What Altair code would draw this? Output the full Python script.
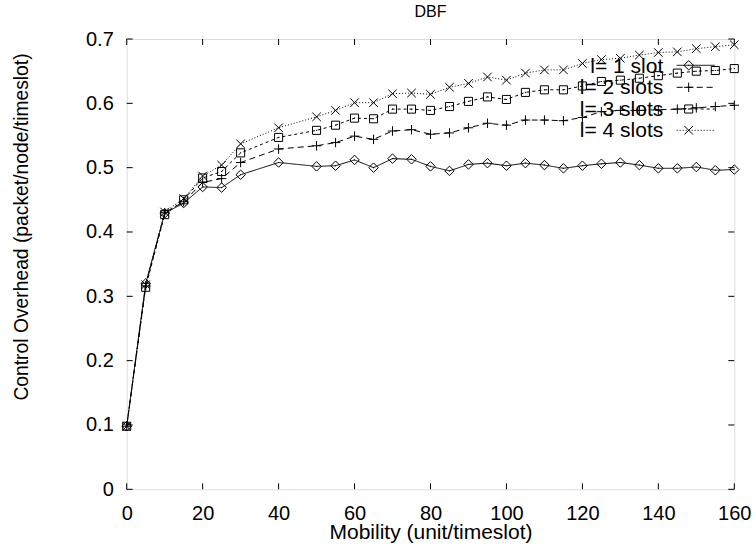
import altair as alt
import pandas as pd

# ---------------- data ----------------
mobility = [0, 5, 10, 15, 20, 25, 30, 40, 50, 55, 60, 65, 70, 75, 80, 85, 90,
            95, 100, 105, 110, 115, 120, 125, 130, 135, 140, 145, 150, 155, 160]
l1 = [0.098, 0.320, 0.429, 0.445, 0.470, 0.469, 0.489, 0.508, 0.502, 0.503, 0.512,
      0.500, 0.514, 0.513, 0.502, 0.495, 0.505, 0.507, 0.503, 0.507, 0.504, 0.499,
      0.503, 0.506, 0.508, 0.504, 0.499, 0.499, 0.501, 0.496, 0.497]
l2 = [0.098, 0.316, 0.430, 0.447, 0.477, 0.483, 0.508, 0.529, 0.534, 0.539, 0.549,
      0.544, 0.557, 0.559, 0.552, 0.554, 0.562, 0.569, 0.566, 0.574, 0.574, 0.573,
      0.578, 0.587, 0.589, 0.589, 0.590, 0.591, 0.593, 0.595, 0.597]
l3 = [0.098, 0.314, 0.427, 0.450, 0.484, 0.494, 0.523, 0.547, 0.558, 0.566, 0.577,
      0.576, 0.591, 0.591, 0.589, 0.595, 0.603, 0.610, 0.606, 0.617, 0.621, 0.621,
      0.627, 0.634, 0.636, 0.639, 0.643, 0.647, 0.650, 0.651, 0.654]
l4 = [0.098, 0.318, 0.431, 0.452, 0.487, 0.504, 0.537, 0.562, 0.579, 0.589, 0.601,
      0.601, 0.615, 0.616, 0.614, 0.625, 0.631, 0.641, 0.636, 0.647, 0.652, 0.652,
      0.662, 0.668, 0.670, 0.675, 0.679, 0.680, 0.685, 0.688, 0.691]
series_labels = ["l= 1 slot", "l= 2 slots", "l= 3 slots", "l= 4 slots"]
x_ticks = [0, 20, 40, 60, 80, 100, 120, 140, 160]
y_ticks = [0, 0.1, 0.2, 0.3, 0.4, 0.5, 0.6, 0.7]
chart_title = ["DBF"]

# ---------------- styling ----------------
W, H = 607.6, 450.3
FONT = "Liberation Sans"
DIAMOND = "M0,-1L1,0L0,1L-1,0Z M-0.12,0L0.12,0"
PLUS = "M-1,0L1,0M0,-1L0,1"
SQUARE = "M-0.85,-0.85L0.85,-0.85L0.85,0.85L-0.85,0.85Z M-0.12,0L0.12,0"
CROSS = "M-0.9,-0.9L0.9,0.9M-0.9,0.9L0.9,-0.9"
shapes = [DIAMOND, PLUS, SQUARE, CROSS]
dashes = [[1, 0], [6, 4], [3, 3], [1, 2]]

rows = []
for lab, vals in zip(series_labels, [l1, l2, l3, l4]):
    for xv, yv in zip(mobility, vals):
        rows.append({"series": lab, "x": xv, "y": yv})
df = pd.DataFrame(rows)

xscale = alt.Scale(domain=[0, 160], nice=False, zero=False)
yscale = alt.Scale(domain=[0, 0.7], nice=False)

x_axis = alt.Axis(values=x_ticks, format="d", grid=False, domain=False, ticks=False,
                  labelFlush=False, labelOverlap=False,
                  labelFont=FONT, labelFontSize=20, labelColor="black", labelPadding=14,
                  title="Mobility (unit/timeslot)", titleFont=FONT, titleFontSize=21,
                  titleFontWeight="normal", titleColor="black", titleX=W / 2,
                  titleY=49.5, titleBaseline="alphabetic", titleAlign="center")
y_axis = alt.Axis(values=y_ticks, format=".1~f", grid=False, domain=False, ticks=False,
                  labelFlush=False, labelOverlap=False,
                  labelFont=FONT, labelFontSize=20, labelColor="black", labelPadding=13.4,
                  title="Control Overhead (packet/node/timeslot)", titleFont=FONT,
                  titleFontSize=19.3, titleFontWeight="normal", titleColor="black",
                  titleAngle=270, titleX=-99, titleY=187.5, titleAlign="center",
                  titleBaseline="alphabetic")

base = alt.Chart(df)
lines = base.mark_line(color="black", strokeWidth=1).encode(
    x=alt.X("x:Q", scale=xscale, axis=x_axis),
    y=alt.Y("y:Q", scale=yscale, axis=y_axis),
    strokeDash=alt.StrokeDash("series:N", scale=alt.Scale(domain=series_labels, range=dashes),
                              legend=None),
    detail="series:N",
)
points = base.mark_point(filled=False, color="black", size=90, strokeWidth=1, opacity=1).encode(
    x=alt.X("x:Q", scale=xscale, axis=x_axis),
    y=alt.Y("y:Q", scale=yscale, axis=y_axis),
    shape=alt.Shape("series:N", scale=alt.Scale(domain=series_labels, range=shapes), legend=None),
)

# inward ticks on all four sides
xt = alt.Chart(pd.DataFrame({"x": x_ticks}))
yt = alt.Chart(pd.DataFrame({"y": y_ticks}))
tick_style = dict(color="black", strokeWidth=1)
ticks_bottom = xt.mark_rule(**tick_style).encode(
    x=alt.X("x:Q", scale=xscale, axis=x_axis), y=alt.value(H), y2=alt.value(H - 6))
ticks_top = xt.mark_rule(**tick_style).encode(
    x=alt.X("x:Q", scale=xscale, axis=x_axis), y=alt.value(0), y2=alt.value(6))
ticks_left = yt.mark_rule(**tick_style).encode(
    y=alt.Y("y:Q", scale=yscale, axis=y_axis), x=alt.value(0), x2=alt.value(6))
ticks_right = yt.mark_rule(**tick_style).encode(
    y=alt.Y("y:Q", scale=yscale, axis=y_axis), x=alt.value(W), x2=alt.value(W - 6))

# title as a text mark above the frame
title_mark = alt.Chart(pd.DataFrame({"t": chart_title})).mark_text(
    align="center", baseline="alphabetic", font=FONT, fontSize=16, color="black"
).encode(text="t:N", x=alt.value(W / 2), y=alt.value(-22))

# gnuplot-style key: text on the left, sample on the right
key_layers = []
key_base = [34.3, 55.3, 77.0, 98.3]
key_mid = [26.3, 48.3, 70.0, 91.3]
for i, lab in enumerate(series_labels):
    kd = alt.Chart(pd.DataFrame({"label": [lab]}))
    key_layers.append(kd.mark_text(align="right", baseline="alphabetic", font=FONT,
                                   fontSize=21, color="black").encode(
        text="label:N", x=alt.value(536.6), y=alt.value(key_base[i])))
    key_layers.append(kd.mark_rule(color="black", strokeWidth=1, strokeDash=dashes[i]).encode(
        x=alt.value(550), x2=alt.value(588), y=alt.value(key_mid[i])))
    key_layers.append(kd.mark_point(shape=shapes[i], filled=False, color="black", size=90,
                                     strokeWidth=1, opacity=1).encode(
        x=alt.value(562), y=alt.value(key_mid[i])))

chart = alt.layer(
    lines, points, ticks_bottom, ticks_top, ticks_left, ticks_right, title_mark, *key_layers
).properties(
    width=W,
    height=H,
    autosize=alt.AutoSizeParams(type="none"),
    padding={"left": 126.7, "top": 39, "right": 21.7, "bottom": 60.7},
).configure_view(
    stroke="black", strokeWidth=1.2
).configure(
    background="white"
)

chart.save("out.html", embed_options={"renderer": "svg", "actions": False})
